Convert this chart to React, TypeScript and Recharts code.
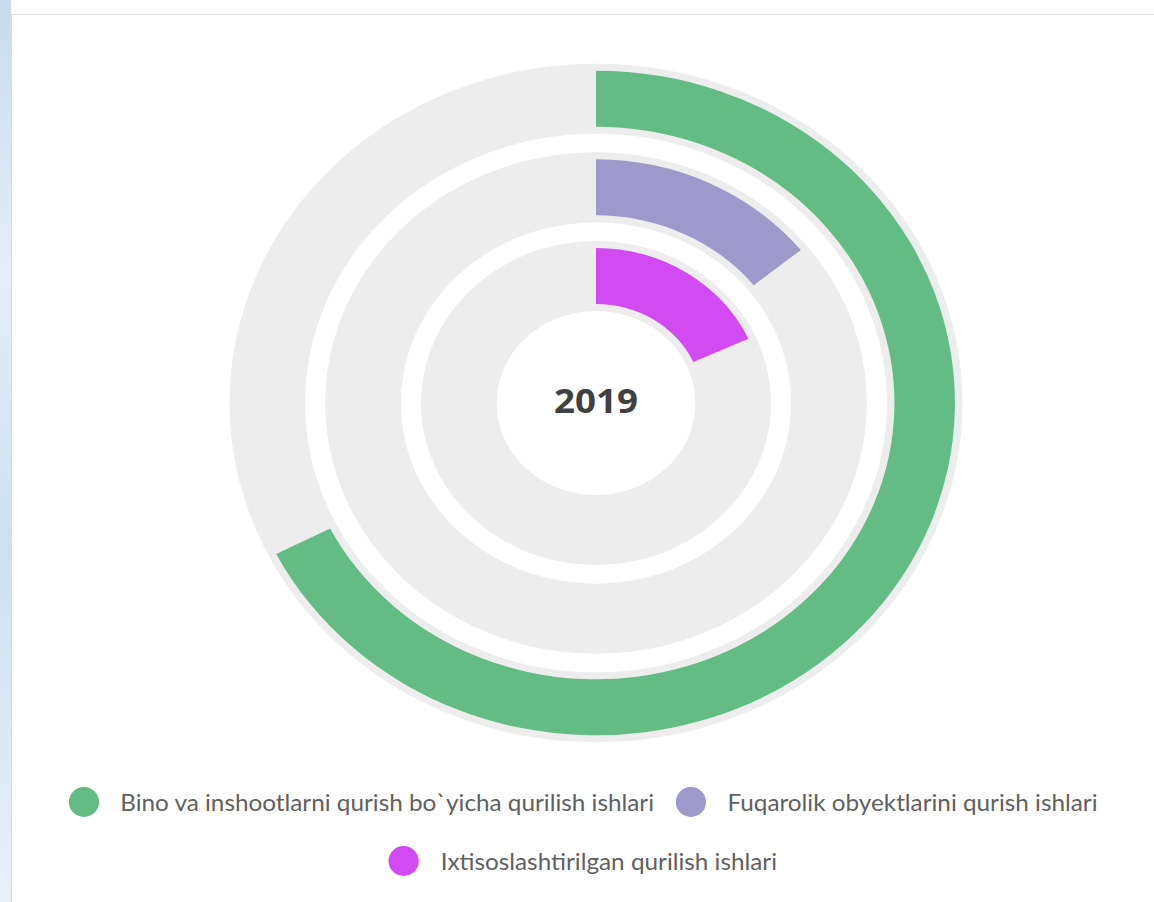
import { RadialBarChart, RadialBar, PolarAngleAxis } from 'recharts';

const labels = [
  'Ixtisoslashtirilgan qurilish ishlari',
  'Fuqarolik obyektlarini qurish ishlari',
  'Bino va inshootlarni qurish bo`yicha qurilish ishlari',
];
const values = [18.2, 14.2, 67.5];
const trackValues = [100, 100, 100];
const colors = ['#d24af2', '#9e99cb', '#63bc83'];
const centerLabel = '2019';

// legend reads outer ring first
const legendOrder = [2, 1, 0];

const TRACK = '#ededed';
const STRETCH = 1.08;

const chartProps = {
  width: 1154,
  height: 902,
  cx: 596,
  cy: 403,
  innerRadius: 83,
  outerRadius: 349,
  startAngle: 90,
  endAngle: -270,
};

export default function App() {
  const data = labels.map((name, i) => ({ name, value: values[i], fill: colors[i] }));
  const tracks = labels.map((name, i) => ({ name, value: trackValues[i] }));

  return (
    <div
      style={{
        position: 'absolute',
        left: 0,
        top: 0,
        width: 1154,
        height: 902,
        overflow: 'hidden',
        background: '#fff',
      }}
    >
      <div
        style={{
          position: 'absolute',
          left: 0,
          top: 0,
          width: 11,
          height: 902,
          background: 'linear-gradient(180deg, #c9daee 0%, #e6eef8 30%, #cfdff0 60%, #e9f0f8 100%)',
        }}
      />
      <div
        style={{
          position: 'absolute',
          left: 11,
          top: 14,
          width: 1160,
          height: 900,
          background: '#fff',
          borderLeft: '1px solid #dcdcdc',
          borderTop: '1px solid #e6e6e6',
        }}
      />
      <div style={{ position: 'absolute', left: 0, top: 0, transform: `scaleX(${STRETCH})`, transformOrigin: '596px 0' }}>
        <RadialBarChart {...chartProps} data={tracks} barSize={70}>
          <PolarAngleAxis type="number" domain={[0, 100]} tick={false} axisLine={false} />
          <RadialBar dataKey="value" fill={TRACK} isAnimationActive={false} />
        </RadialBarChart>
      </div>
      <div style={{ position: 'absolute', left: 0, top: 0, transform: `scaleX(${STRETCH})`, transformOrigin: '596px 0' }}>
        <RadialBarChart {...chartProps} data={data} barSize={56}>
          <PolarAngleAxis type="number" domain={[0, 100]} tick={false} axisLine={false} />
          <RadialBar dataKey="value" isAnimationActive={false} />
          <text
            x={596}
            y={404}
            textAnchor="middle"
            dominantBaseline="middle"
            fontFamily="'Open Sans', sans-serif"
            fontWeight={700}
            fontSize={34}
            fill="#404040"
          >
            {centerLabel}
          </text>
        </RadialBarChart>
      </div>
      <div
        style={{
          position: 'absolute',
          left: 12,
          top: 786,
          width: 1142,
          display: 'flex',
          flexWrap: 'wrap',
          justifyContent: 'center',
          rowGap: 27,
          fontFamily: 'Lato, sans-serif',
          fontSize: 22.5,
          color: '#606060',
          transform: `scaleX(${STRETCH})`,
          transformOrigin: '572px 0',
        }}
      >
        {legendOrder.map((i) => (
          <div key={i} style={{ display: 'flex', alignItems: 'center', margin: '0 10px', height: 32 }}>
            <div
              style={{ width: 28, height: 30, borderRadius: '50%', background: colors[i], marginRight: 20 }}
            />
            <span>{labels[i]}</span>
          </div>
        ))}
      </div>
    </div>
  );
}
